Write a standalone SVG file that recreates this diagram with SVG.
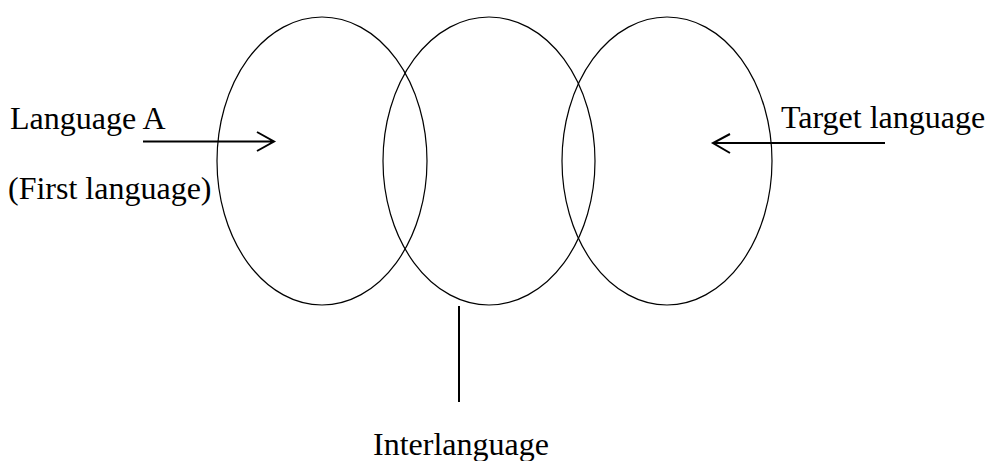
<svg xmlns="http://www.w3.org/2000/svg" width="992" height="461" viewBox="0 0 992 461">
<style>
.e{fill:none;stroke:#000;stroke-width:1.2}
.l{stroke:#000;stroke-width:2;fill:none}
text{font-family:"Liberation Serif","Times New Roman",serif;font-size:32px;fill:#000}
</style>
<rect width="992" height="461" fill="#fff"/>
<g id="languageA"><ellipse class="e" cx="322" cy="161" rx="105" ry="144"/></g>
<g id="interlanguage"><ellipse class="e" cx="489" cy="161" rx="106" ry="144"/></g>
<g id="target"><ellipse class="e" cx="667" cy="161" rx="105" ry="144"/></g>
<g id="labels">
<text x="10" y="129">Language A</text>
<text x="8" y="199">(First language)</text>
<text x="781" y="128">Target language</text>
<text x="373" y="455">Interlanguage</text>
</g>
<g id="connectors">
<path class="l" d="M143 141.5H274M257 132L274 141.5L257 151"/>
<path class="l" d="M885 143H713M730 134L713 143L730 153"/>
<path class="l" d="M459 306V402"/>
</g>
</svg>
